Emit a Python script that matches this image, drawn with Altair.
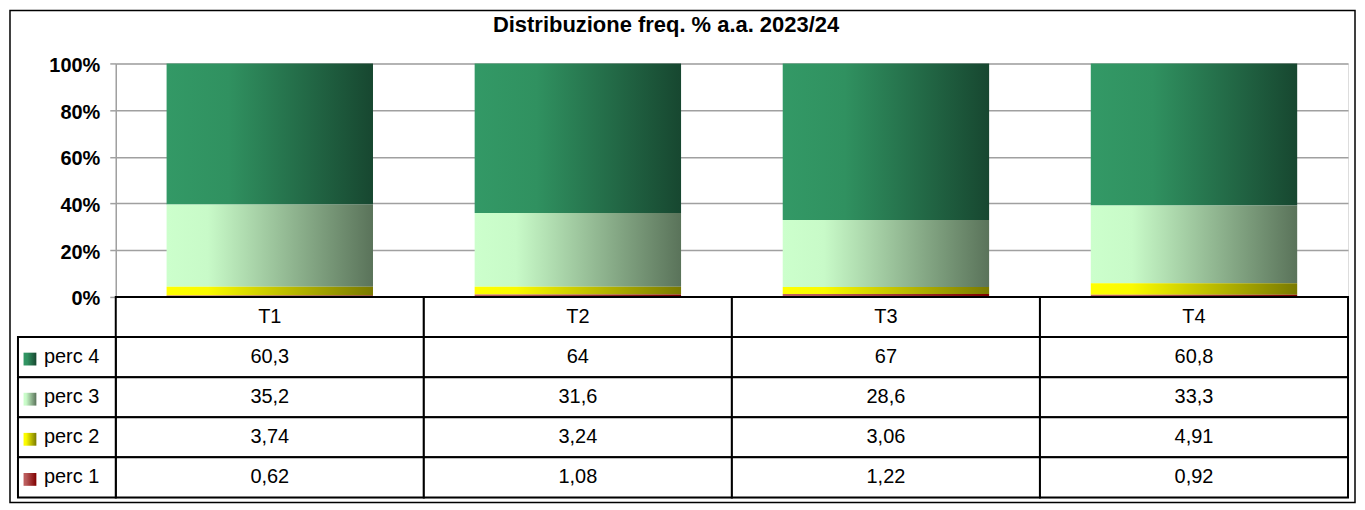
import altair as alt
import pandas as pd

categories = ["T1", "T2", "T3", "T4"]
series = ["perc 4", "perc 3", "perc 2", "perc 1"]
perc4 = [60.3, 64, 67, 60.8]
perc3 = [35.2, 31.6, 28.6, 33.3]
perc2 = [3.74, 3.24, 3.06, 4.91]
perc1 = [0.62, 1.08, 1.22, 0.92]
values = {"perc 4": perc4, "perc 3": perc3, "perc 2": perc2, "perc 1": perc1}
stack_order = {"perc 1": 1, "perc 2": 2, "perc 3": 3, "perc 4": 4}
title_text = "Distribuzione freq. % a.a. 2023/24"

gradient_stops = {
    "perc 4": [(0, "#339966"), (0.3, "#309160"), (1, "#174730")],
    "perc 3": [(0, "#ccffcc"), (0.2, "#c8fac8"), (1, "#5a735a")],
    "perc 2": [(0, "#ffff00"), (0.2, "#fafa00"), (1, "#7a7a00")],
    "perc 1": [(0, "#c06060"), (0.2, "#b85a5a"), (1, "#800000")],
}

FONT = "Liberation Sans"


def grad(s):
    return alt.Gradient(
        gradient="linear",
        stops=[alt.GradientStop(offset=o, color=c) for o, c in gradient_stops[s]],
        x1=0, x2=1, y1=0, y2=0,
    )


rows = []
for s in series:
    for c, v in zip(categories, values[s]):
        rows.append({"cat": c, "series": s, "row": s, "value": v,
                     "order": stack_order[s],
                     "label": f"{v:g}".replace(".", ",")})
df = pd.DataFrame(rows)
hdr = pd.DataFrame({"cat": categories, "row": ["hdr"] * 4, "label": categories})
table_df = pd.concat([hdr, df[["cat", "row", "label"]]], ignore_index=True)
leg_df = pd.DataFrame({"row": series})
one = pd.DataFrame({"a": [0]})

# ---------- top chart: stacked 100% bars ----------
x_top = alt.X("cat:N", sort=categories,
              scale=alt.Scale(domain=categories, paddingInner=0, paddingOuter=0),
              axis=None)
y_top = alt.Y("v0:Q", title=None,
              scale=alt.Scale(domain=[0, 1], nice=False),
              axis=alt.Axis(format=".0%", values=[0, 0.2, 0.4, 0.6, 0.8, 1],
                            labelFont=FONT, labelFontSize=20, labelFontWeight="bold",
                            labelColor="black", labelPadding=10, labelFlush=False,
                            labelBaseline="middle", labelOffset=2,
                            tickColor="#a0a0a0", tickSize=6, tickWidth=1.5,
                            domainColor="#a0a0a0", domainWidth=1.5,
                            gridColor="#a0a0a0", gridWidth=1.5))

base = alt.Chart(df).transform_stack(
    stack="value", groupby=["cat"], as_=["v0", "v1"], offset="normalize",
    sort=[alt.SortField("order", "ascending")])

bar_layers = []
for s in series:
    bar_layers.append(
        base.transform_filter(alt.datum.series == s)
        .mark_bar(width={"band": 0.67}, fill=grad(s), strokeWidth=0)
        .encode(x=x_top, y=y_top, y2="v1:Q")
    )

top = alt.layer(*bar_layers).properties(
    width=1235, height=234,
    title=alt.Title(title_text, font=FONT, fontSize=22, fontWeight="bold",
                    color="black", anchor="middle", frame="group", dx=-66, offset=19),
)

# ---------- bottom: data table ----------
x_tab = alt.X("cat:N", sort=categories,
              scale=alt.Scale(domain=categories, paddingInner=0, paddingOuter=0),
              axis=None)
y_tab = alt.Y("row:N",
              scale=alt.Scale(domain=["hdr"] + series, paddingInner=0, paddingOuter=0),
              axis=None)

cells = alt.Chart(table_df).mark_rect(fill="white", stroke="black", strokeWidth=2).encode(
    x=x_tab, y=y_tab)
cell_text = alt.Chart(table_df).mark_text(font=FONT, fontSize=20, color="black",
                                          baseline="middle").encode(
    x=x_tab, y=y_tab, text="label:N")

leg_cells = alt.Chart(leg_df).mark_rect(fill="white", stroke="black", strokeWidth=2).encode(
    x=alt.value(-98), x2=alt.value(0), y=y_tab)
leg_text = alt.Chart(leg_df).mark_text(font=FONT, fontSize=20, color="black",
                                       align="left", baseline="middle").encode(
    x=alt.value(-72), y=y_tab, text="row:N")
square_layers = []
for s in series:
    square_layers.append(
        alt.Chart(leg_df).transform_filter(alt.datum.row == s)
        .mark_square(size=165, fill=grad(s), filled=True, opacity=1, strokeWidth=0,
                     yOffset=2)
        .encode(x=alt.value(-86), y=y_tab)
    )

border = alt.Chart(one).mark_rect(fill="transparent", stroke="black", strokeWidth=1.5).encode(
    x=alt.value(-106), x2=alt.value(1242), y=alt.value(-287), y2=alt.value(206))

table = alt.layer(cells, cell_text, leg_cells, leg_text, *square_layers, border).properties(
    width=1235, height=201)

chart = alt.vconcat(top, table, spacing=0, bounds="flush").properties(
    padding=0
).configure_view(stroke=None).configure(font=FONT)

chart.save("out.html", embed_options={"renderer": "svg", "actions": False})
